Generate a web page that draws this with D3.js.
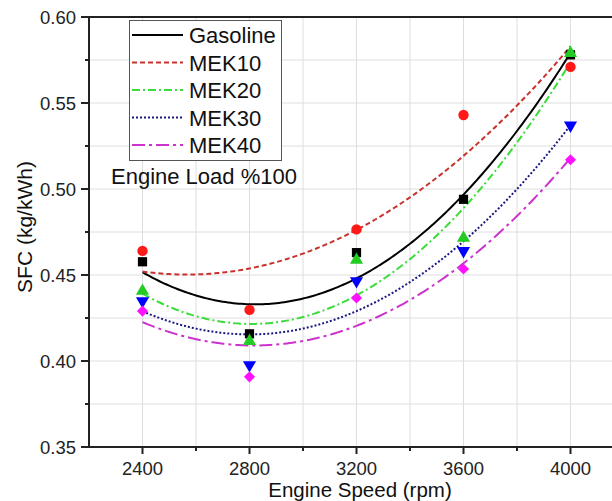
<!DOCTYPE html>
<html>
<head>
<meta charset="utf-8">
<script src="https://cdn.jsdelivr.net/npm/d3@7"></script>
<style>
  html, body { margin: 0; padding: 0; background: #fff; }
  svg { display: block; font-family: "Liberation Sans", Arial, sans-serif; }
</style>
</head>
<body>
<div id="chart"></div>
<script>
// data -----------------------------------------------------------------------
const speeds = [2400, 2800, 3200, 3600, 4000];
const gasoline = [0.4577, 0.4158, 0.4630, 0.4940, 0.5780];
const mek10 = [0.4640, 0.4297, 0.4765, 0.5430, 0.5710];
const mek20 = [0.4407, 0.4115, 0.4587, 0.4715, 0.5790];
const mek30 = [0.4349, 0.3977, 0.4465, 0.4640, 0.5370];
const mek40 = [0.4290, 0.3908, 0.4366, 0.4535, 0.5170];
const seriesNames = ['Gasoline', 'MEK10', 'MEK20', 'MEK30', 'MEK40'];
const xTicks = [2400, 2800, 3200, 3600, 4000];
const yTicks = [0.35, 0.40, 0.45, 0.50, 0.55, 0.60];

// styles -----------------------------------------------------------------------
const styles = [
  {line: '#000000', mark: '#000000', dash: null, symbol: 'square'},
  {line: '#c8322d', mark: '#ff1a1a', dash: '5,3', symbol: 'circle'},
  {line: '#3ddc3d', mark: '#22cc22', dash: '8,3,2,3', symbol: 'triangle'},
  {line: '#1a1a80', mark: '#0000ff', dash: '2,2', symbol: 'triangleDown'},
  {line: '#cc33cc', mark: '#ff11ff', dash: '13,4,3,4', symbol: 'diamond'}
];
const allValues = [gasoline, mek10, mek20, mek30, mek40];

const width = 612;
const height = 501;
const svg = d3.select('#chart').append('svg')
  .attr('width', width)
  .attr('height', height);

const x = d3.scaleLinear().domain([2200, 4200]).range([89, 624]);
const y = d3.scaleLinear().domain([0.35, 0.60]).range([447, 17]);

// grid --------------------------------------------------------------------------
const grid = svg.append('g');
grid.selectAll('.vg')
  .data(d3.range(2400, 4201, 200))
  .enter().append('line')
  .attr('x1', d => x(d)).attr('x2', d => x(d))
  .attr('y1', y(0.35)).attr('y2', y(0.60))
  .attr('stroke', '#dedede').attr('stroke-width', 1);
grid.selectAll('.hg')
  .data(d3.range(0, 10).map(i => 0.375 + i * 0.025))
  .enter().append('line')
  .attr('x1', x(2200)).attr('x2', x(4200))
  .attr('y1', d => y(d)).attr('y2', d => y(d))
  .attr('stroke', '#dedede').attr('stroke-width', 1);

// quadratic least squares fit (the trend lines in the chart) ---------------------
function quadFit (xs, ys) {
  const x0 = 3200, s = 400;
  const u = xs.map(v => (v - x0) / s);
  let S = [[0, 0, 0], [0, 0, 0], [0, 0, 0]], B = [0, 0, 0];
  u.forEach((t, i) => {
    const p = [1, t, t * t];
    for (let r = 0; r < 3; r++) {
      B[r] += p[r] * ys[i];
      for (let c = 0; c < 3; c++) S[r][c] += p[r] * p[c];
    }
  });
  // gaussian elimination
  for (let k = 0; k < 3; k++) {
    for (let r = k + 1; r < 3; r++) {
      const f = S[r][k] / S[k][k];
      for (let c = k; c < 3; c++) S[r][c] -= f * S[k][c];
      B[r] -= f * B[k];
    }
  }
  const a = [0, 0, 0];
  for (let r = 2; r >= 0; r--) {
    let sum = B[r];
    for (let c = r + 1; c < 3; c++) sum -= S[r][c] * a[c];
    a[r] = sum / S[r][r];
  }
  return v => { const t = (v - x0) / s; return a[0] + a[1] * t + a[2] * t * t; };
}

const line = d3.line().x(d => x(d[0])).y(d => y(d[1]));
const fitXs = d3.range(2400, 4000.1, 10);

allValues.forEach((vals, i) => {
  const f = quadFit(speeds, vals);
  svg.append('path')
    .datum(fitXs.map(v => [v, f(v)]))
    .attr('d', line)
    .attr('fill', 'none')
    .attr('stroke', styles[i].line)
    .attr('stroke-width', 2)
    .attr('stroke-dasharray', styles[i].dash);
});

// markers ------------------------------------------------------------------------
function marker (sel, kind, color) {
  let gen, rot = 0;
  if (kind === 'square') gen = d3.symbol(d3.symbolSquare, 85);
  else if (kind === 'circle') gen = d3.symbol(d3.symbolCircle, 85);
  else if (kind === 'triangle') gen = d3.symbol(d3.symbolTriangle, 75);
  else if (kind === 'triangleDown') { gen = d3.symbol(d3.symbolTriangle, 75); rot = 180; }
  else { gen = d3.symbol(d3.symbolSquare, 62); rot = 45; }
  sel.append('path')
    .attr('d', gen)
    .attr('fill', color)
    .attr('transform', d => 'translate(' + x(d[0]) + ',' + y(d[1]) + ') rotate(' + rot + ')');
}

allValues.forEach((vals, i) => {
  const g = svg.append('g');
  const pts = g.selectAll('g').data(speeds.map((s, j) => [s, vals[j]])).enter().append('g');
  marker(pts, styles[i].symbol, styles[i].mark);
});

// axes ---------------------------------------------------------------------------
const axisColor = '#222';
const xAxis = svg.append('g').attr('transform', 'translate(0,' + y(0.35) + ')');
xAxis.append('line').attr('x1', x(2200) - 1).attr('x2', x(4200))
  .attr('stroke', axisColor).attr('stroke-width', 2);
xAxis.selectAll('.xt').data(d3.range(2400, 4201, 200)).enter().append('line')
  .attr('x1', d => x(d)).attr('x2', d => x(d))
  .attr('y1', 0).attr('y2', d => xTicks.includes(d) ? 7 : 4)
  .attr('stroke', axisColor).attr('stroke-width', 2);
xAxis.selectAll('.xl').data(xTicks).enter().append('text')
  .attr('x', d => x(d)).attr('y', 28)
  .attr('text-anchor', 'middle')
  .attr('font-size', '18.5px').attr('fill', '#222')
  .text(d => d);

const yAxis = svg.append('g').attr('transform', 'translate(' + x(2200) + ',0)');
yAxis.append('line').attr('y1', y(0.60) - 1).attr('y2', y(0.35) + 1)
  .attr('stroke', axisColor).attr('stroke-width', 2);
yAxis.selectAll('.yt').data(d3.range(0, 11).map(i => 0.35 + i * 0.025)).enter().append('line')
  .attr('y1', d => y(d)).attr('y2', d => y(d))
  .attr('x1', 0).attr('x2', (d, i) => i % 2 === 0 ? -8 : -4)
  .attr('stroke', axisColor).attr('stroke-width', 2);
yAxis.selectAll('.yl').data(yTicks).enter().append('text')
  .attr('x', -13).attr('y', d => y(d) + 6.5)
  .attr('text-anchor', 'end')
  .attr('font-size', '18.5px').attr('fill', '#222')
  .text(d3.format('.2f'));

// top frame
svg.append('line').attr('x1', x(2200) - 1).attr('x2', x(4200))
  .attr('y1', y(0.60)).attr('y2', y(0.60))
  .attr('stroke', axisColor).attr('stroke-width', 2);

// axis titles
svg.append('text')
  .attr('x', 360).attr('y', 497)
  .attr('text-anchor', 'middle')
  .attr('font-size', '20.5px').attr('fill', '#111')
  .text('Engine Speed (rpm)');
svg.append('text')
  .attr('transform', 'translate(32,227) rotate(-90)')
  .attr('text-anchor', 'middle')
  .attr('font-size', '21px').attr('fill', '#111')
  .text('SFC (kg/kWh)');

// legend -------------------------------------------------------------------------
const legend = svg.append('g');
legend.append('rect')
  .attr('x', 129.5).attr('y', 20.5).attr('width', 152).attr('height', 140)
  .attr('fill', '#fff').attr('stroke', '#555').attr('stroke-width', 1);
seriesNames.forEach((name, i) => {
  const ly = 35 + i * 27.5;
  legend.append('line')
    .attr('x1', 132).attr('x2', 183).attr('y1', ly).attr('y2', ly)
    .attr('stroke', styles[i].line).attr('stroke-width', 2)
    .attr('stroke-dasharray', styles[i].dash);
  legend.append('text')
    .attr('x', 189).attr('y', ly + 8)
    .attr('font-size', '22px').attr('fill', '#111')
    .text(name);
});
svg.append('text')
  .attr('x', 111).attr('y', 184)
  .attr('font-size', '22px').attr('fill', '#111')
  .text('Engine Load %100');
</script>
</body>
</html>
